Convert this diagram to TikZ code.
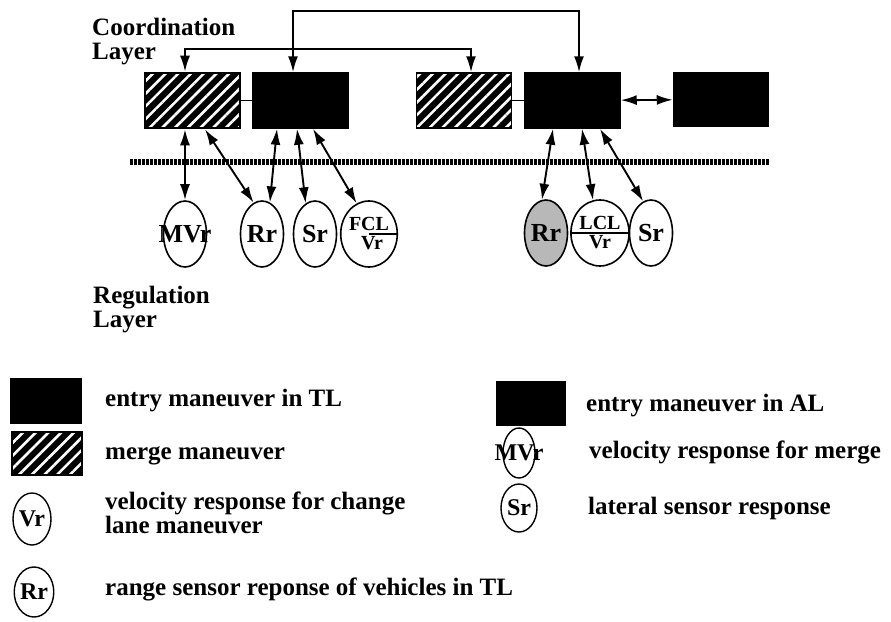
\documentclass[tikz,border=0pt]{standalone}
\usepackage{fontspec}
\setmainfont{Liberation Serif}
\usetikzlibrary{positioning}
\usetikzlibrary{arrows.meta}
\usetikzlibrary{calc}
\usetikzlibrary{shapes.geometric}
\usetikzlibrary{patterns.meta}

\tikzset{
    entrybox/.style={draw=black, fill=black, line width=1.5pt, minimum width=95pt, minimum height=55pt, inner sep=0pt},
    mergebox/.style={draw=black, line width=1.5pt, minimum width=95pt, minimum height=55pt, inner sep=0pt,
        preaction={fill=black}, pattern={Lines[angle=45,distance=9pt,line width=2.6pt]}, pattern color=white},
    resp/.style={ellipse, draw=black, line width=1.6pt, minimum width=43pt, minimum height=66pt, inner sep=0pt,
        font=\fontsize{26}{26}\selectfont\bfseries},
    resptwo/.style={resp, align=center, font=\fontsize{20}{17}\selectfont\bfseries},
    key/.style={ellipse, draw=black, line width=1.4pt, minimum width=38pt, minimum height=52pt, inner sep=0pt,
        font=\fontsize{24}{24}\selectfont\bfseries},
    link/.style={line width=1.9pt, {Latex[length=16pt,width=10pt]}-{Latex[length=16pt,width=10pt]}},
    dotrule/.style={line width=6pt, dash pattern=on 2.5pt off 1.5pt},
    lbl/.style={font=\fontsize{25}{24}\selectfont\bfseries, inner sep=0pt, align=left},
}

\begin{document}
\begin{tikzpicture}[x=1pt, y=-1pt]
    \useasboundingbox (0,0) rectangle (891,621);

    % coordination layer
    \node[lbl, anchor=north west] (coordlbl) at (92,18) {Coordination\\Layer};
    \node[mergebox] (mergeA) at (192.5,100.5) {};
    \node[entrybox] (entryA) at (300.5,100.5) {};
    \node[mergebox] (mergeB) at (464,100.5) {};
    \node[entrybox] (entryB) at (572.5,100.5) {};
    \node[entrybox, minimum height=53pt] (entryC) at (721,99.5) {};

    \coordinate (topbend) at (579,11);
    \coordinate (midbend) at (471,49);
    \draw[link] ([xshift=-7.5pt]entryA.north) |- (topbend) -- ([xshift=6.5pt]entryB.north);
    \draw[link] ([xshift=-7.5pt]mergeA.north) |- (midbend) -- ([xshift=7pt]mergeB.north);
    \draw[line width=1.8pt] (mergeA) -- (entryA);
    \draw[line width=1.8pt] (mergeB) -- (entryB);
    \draw[link] (entryB) -- (entryC);

    \coordinate (dl) at (130,162);
    \coordinate (dr) at (770,162);
    \draw[dotrule] (dl) -- (dr);

    % regulation layer
    \node[resp] (MVr) at (185,234) {\makebox[0pt]{MVr}};
    \node[resp] (Rr) at (262,234) {Rr};
    \node[resp] (Sr) at (315,234) {Sr};
    \node[resptwo] (FCL) at (369,234) {FCL\\[2pt]\hspace{6pt}Vr};
    \node[resp, fill=black!28] (Rr2) at (546,233) {Rr};
    \node[resptwo] (LCL) at (600,233) {LCL\\[2pt]Vr};
    \node[resp] (Sr2) at (651,233) {Sr};
    \draw[line width=1.3pt] (FCL.center) -- (FCL.east);
    \draw[line width=1.3pt] (LCL.west) -- (Sr2.west);

    \draw[link] (MVr) -- (MVr |- mergeA.south);
    \draw[link] (Rr.105) -- ([xshift=12.5pt]mergeA.south);
    \draw[link] (Rr.76) -- ([xshift=-23.5pt]entryA.south);
    \draw[link] (Sr.107) -- ([xshift=-3.5pt]entryA.south);
    \draw[link] (FCL.112) -- ([xshift=12.5pt]entryA.south);
    \draw[link] (Rr2.97) -- ([xshift=-19.5pt]entryB.south);
    \draw[link] (LCL.102) -- ([xshift=9.5pt]entryB.south);
    \draw[link] (Sr2.104) -- ([xshift=27.5pt]entryB.south);

    \node[lbl, anchor=north west] (reglbl) at (93,286) {Regulation\\Layer};

    % legend
    \node[entrybox, minimum width=70pt, minimum height=44pt] (keytl) at (46,401) {};
    \node[mergebox, minimum width=70pt, minimum height=43pt] (keymerge) at (47,453.5) {};
    \node[key] (keyvr) at (32,519) {Vr};
    \node[key, minimum height=50pt] (keyrr) at (34,592) {Rr};
    \node[entrybox, minimum width=68pt, minimum height=43pt] (keyal) at (531,403.5) {};
    \node[key, minimum width=32pt, minimum height=50pt] (keymvr) at (519,453) {\makebox[0pt]{MVr}};
    \node[key, minimum width=36pt, minimum height=48pt] (keysr) at (519,508) {Sr};

    \node[lbl, anchor=base west] (txttl) at (105,406) {entry maneuver in TL};
    \node[lbl, anchor=base west] (txtmerge) at (105,459) {merge maneuver};
    \node[lbl, anchor=base west, font=\fontsize{25}{21}\selectfont\bfseries] (txtvr) at (105,533) {velocity response for change\\lane maneuver};
    \node[lbl, anchor=base west] (txtrr) at (105,595) {range sensor reponse of vehicles in TL};
    \node[lbl, anchor=base west] (txtal) at (586,411) {entry maneuver in AL};
    \node[lbl, anchor=base west] (txtmvr) at (589,458) {velocity response for merge};
    \node[lbl, anchor=base west] (txtsr) at (588,514) {lateral sensor response};
\end{tikzpicture}
\end{document}
